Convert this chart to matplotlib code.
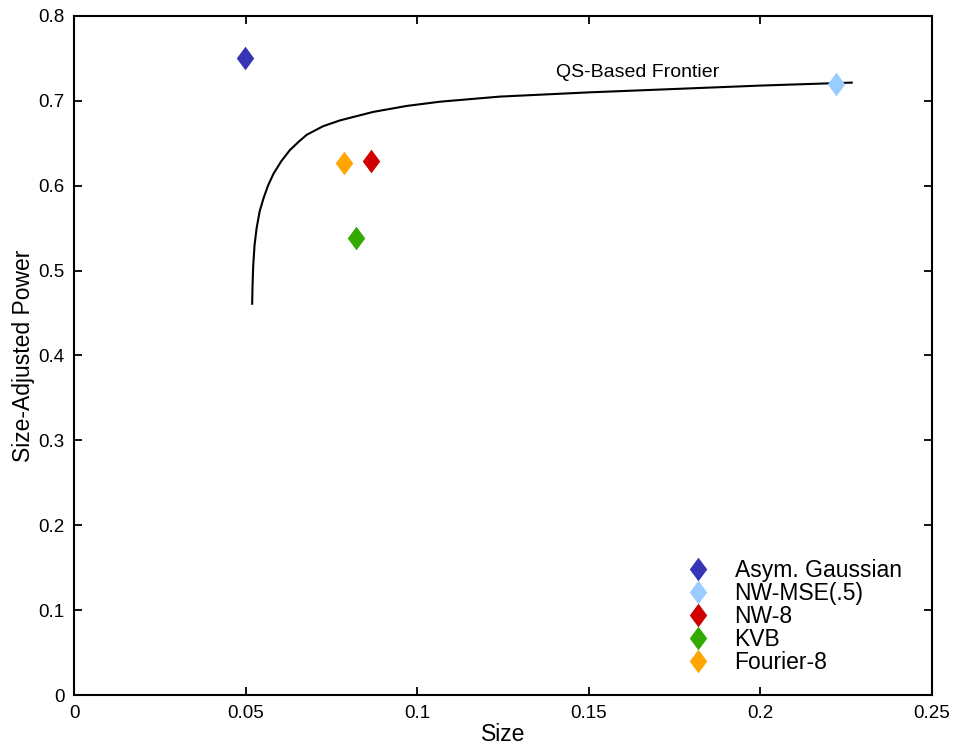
import matplotlib
matplotlib.use('Agg')
import matplotlib.pyplot as plt
from matplotlib.path import Path

plt.rcParams['font.family'] = ['Liberation Sans', 'DejaVu Sans']

# estimates
labels = ['Asym. Gaussian', 'NW-MSE(.5)', 'NW-8', 'KVB', 'Fourier-8']
size = [0.0498, 0.2220, 0.0866, 0.0822, 0.0787]
power = [0.750, 0.720, 0.629, 0.538, 0.627]
colors = ['#3535B5', '#99CCFF', '#D00000', '#33AA00', '#FFA500']

frontier_x = [0.0519, 0.0520, 0.0522, 0.0526, 0.0532, 0.0541, 0.0552, 0.0565,
              0.0581, 0.0604, 0.0629, 0.0655, 0.0678, 0.0725, 0.0775, 0.0872,
              0.0969, 0.1066, 0.1240, 0.1500, 0.1750, 0.2000, 0.2266]
frontier_y = [0.461, 0.480, 0.505, 0.530, 0.550, 0.570, 0.585, 0.600,
              0.614, 0.629, 0.642, 0.652, 0.660, 0.670, 0.677, 0.687,
              0.694, 0.699, 0.705, 0.710, 0.714, 0.718, 0.7215]

xticks = [0, 0.05, 0.1, 0.15, 0.2, 0.25]
xticklabels = ['0', '0.05', '0.1', '0.15', '0.2', '0.25']
yticks = [0, 0.1, 0.2, 0.3, 0.4, 0.5, 0.6, 0.7, 0.8]
yticklabels = ['0', '0.1', '0.2', '0.3', '0.4', '0.5', '0.6', '0.7', '0.8']

diamond = Path([(-0.37, 0), (0, 0.5), (0.37, 0), (0, -0.5), (-0.37, 0)],
               [Path.MOVETO, Path.LINETO, Path.LINETO, Path.LINETO, Path.CLOSEPOLY])

fig = plt.figure(figsize=(9.55, 7.5), dpi=100)
ax = fig.add_axes([0.0775, 0.0733, 0.8985, 0.9054])

ax.plot(frontier_x, frontier_y, color='black', lw=1.5, solid_joinstyle='round')
ax.text(0.1403, 0.733, 'QS-Based Frontier', fontsize=14, va='center', ha='left')

for x, y, c, lab in zip(size, power, colors, labels):
    ax.plot([x], [y], linestyle='none', marker=diamond, markersize=17,
            color=c, markeredgewidth=0, label=lab)

ax.set_xlim(0, 0.25)
ax.set_ylim(0, 0.8)
ax.set_xticks(xticks)
ax.set_xticklabels(xticklabels)
ax.set_yticks(yticks)
ax.set_yticklabels(yticklabels)
ax.tick_params(direction='in', length=6, width=1.3, labelsize=13.5,
               top=True, right=True, pad=7)
for s in ax.spines.values():
    s.set_linewidth(1.5)

ax.set_xlabel('Size', fontsize=16.5, labelpad=1)
ax.set_ylabel('Size-Adjusted Power', fontsize=16.5, labelpad=2)

ax.legend(loc='upper left', bbox_to_anchor=(0.7188, 0.2553),
          bbox_transform=fig.transFigure, frameon=False,
          fontsize=16.5, handlelength=1.0, handletextpad=1.1,
          labelspacing=0.0, borderaxespad=0, borderpad=0)

fig.savefig('out.png', dpi=100)
